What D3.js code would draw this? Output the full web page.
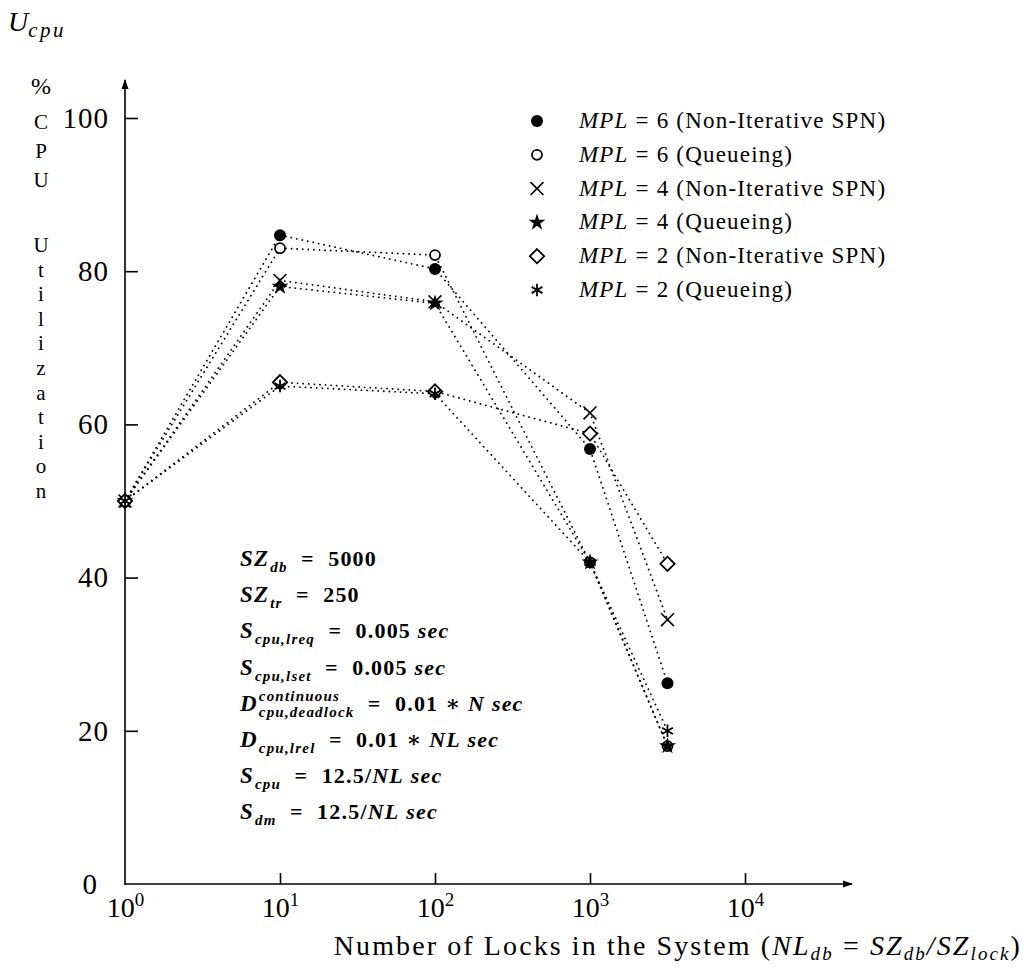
<!DOCTYPE html>
<html>
<head>
<meta charset="utf-8">
<script src="https://cdn.jsdelivr.net/npm/d3@7"></script>
<style>
  body { margin: 0; background: #fff; }
  svg { font-family: "Liberation Serif", "DejaVu Serif", serif; }
</style>
</head>
<body>
<svg id="chart" width="1028" height="968"></svg>
<script>
// number of locks (x) and CPU utilization (%) per series
var locks = [1, 10, 100, 1000, 3162];
var mpl6Spn   = [50, 84.7, 80.3, 56.8, 26.2];
var mpl6Queue = [50, 83.0, 82.1, 42.0, 18.0];
var mpl4Spn   = [50, 78.8, 76.0, 61.5, 34.5];
var mpl4Queue = [50, 78.0, 75.8, 42.0, 18.0];
var mpl2Spn   = [50, 65.5, 64.3, 58.8, 41.8];
var mpl2Queue = [50, 65.0, 64.0, 42.0, 20.0];

var seriesNames = ["6 (Non-Iterative SPN)", "6 (Queueing)", "4 (Non-Iterative SPN)",
                   "4 (Queueing)", "2 (Non-Iterative SPN)", "2 (Queueing)"];
var seriesValues = [mpl6Spn, mpl6Queue, mpl4Spn, mpl4Queue, mpl2Spn, mpl2Queue];
var seriesMarks = ["dot", "ring", "times", "star", "diamond", "asterisk"];

var xTicks = [1, 10, 100, 1000, 10000];
var yTicks = [0, 20, 40, 60, 80, 100];
var yLetters = ["C", "P", "U", "", "U", "t", "i", "l", "i", "z", "a", "t", "i", "o", "n"];

// parameter block: [main, sup, sub, rest]
var params = [
  ["SZ", "", "db", "  =  5000"],
  ["SZ", "", "tr", "  =  250"],
  ["S", "", "cpu,lreq", "  =  0.005 sec"],
  ["S", "", "cpu,lset", "  =  0.005 sec"],
  ["D", "continuous", "cpu,deadlock", "  =  0.01 \u2217 N sec"],
  ["D", "", "cpu,lrel", "  =  0.01 \u2217 NL sec"],
  ["S", "", "cpu", "  =  12.5/NL sec"],
  ["S", "", "dm", "  =  12.5/NL sec"]
];

var svg = d3.select("#chart");

var x = d3.scaleLog().domain([1, 10000]).range([125, 745]);
var y = d3.scaleLinear().domain([0, 100]).range([884, 118]);

// arrow head
svg.append("defs").append("marker")
  .attr("id", "arrow")
  .attr("viewBox", "0 0 10 10")
  .attr("refX", 9).attr("refY", 5)
  .attr("markerWidth", 10).attr("markerHeight", 10)
  .attr("markerUnits", "userSpaceOnUse")
  .attr("orient", "auto")
  .append("path").attr("d", "M0,1.5L10,5L0,8.5Z").attr("fill", "#000");

// axes
var yAxis = svg.append("g")
  .attr("transform", "translate(" + x(1) + ",0)")
  .call(d3.axisLeft(y).tickValues(yTicks).tickSizeInner(-13).tickSizeOuter(0).tickPadding(16));
yAxis.select(".domain").remove();
yAxis.selectAll("line").attr("stroke-width", 1.6);
yAxis.selectAll("text").attr("font-size", 29).attr("font-family", "Liberation Serif").attr("letter-spacing", 1);
yAxis.selectAll(".tick").filter(function(d) { return d === 0; }).remove();

var xAxis = svg.append("g")
  .attr("transform", "translate(0," + y(0) + ")")
  .call(d3.axisBottom(x).tickValues(xTicks).tickSizeInner(-11).tickSizeOuter(0).tickPadding(8).tickFormat(""));
xAxis.select(".domain").remove();
xAxis.selectAll("line").attr("stroke-width", 1.6);
xAxis.selectAll(".tick").filter(function(d) { return d === 1; }).select("line").remove();
xAxis.selectAll(".tick text")
  .attr("font-size", 28).attr("font-family", "Liberation Serif").attr("dy", "0.9em")
  .each(function(d) {
    var t = d3.select(this).text("10");
    t.append("tspan").attr("font-size", 19).attr("dy", "-0.6em").text(Math.round(Math.log10(d)));
  });

svg.append("line")
  .attr("x1", x(1)).attr("y1", y(0)).attr("x2", 852).attr("y2", y(0))
  .attr("stroke", "#000").attr("stroke-width", 1.6).attr("marker-end", "url(#arrow)");
svg.append("line")
  .attr("x1", x(1)).attr("y1", y(0) + 1).attr("x2", x(1)).attr("y2", 80)
  .attr("stroke", "#000").attr("stroke-width", 1.6).attr("marker-end", "url(#arrow)");

svg.append("text").attr("x", 97).attr("y", y(0) + 10)
  .attr("text-anchor", "end").attr("font-size", 29).text("0");

// axis titles
var ut = svg.append("text").attr("x", 8).attr("y", 31).attr("font-size", 28).attr("font-style", "italic");
ut.append("tspan").text("U");
ut.append("tspan").attr("font-size", 21).attr("dy", 6).attr("letter-spacing", 2.5).text("cpu");

svg.append("text").attr("x", 41).attr("y", 94).attr("text-anchor", "middle")
  .attr("font-size", 24).text("%");
svg.selectAll(".yletter")
  .data(yLetters)
  .enter().append("text")
  .attr("class", "yletter")
  .attr("x", 41)
  .attr("y", function(d, i) { return i < 4 ? 129 + i * 29 : 252 + (i - 4) * 24.6; })
  .attr("text-anchor", "middle")
  .attr("font-size", 21)
  .text(function(d) { return d; });

var xl = svg.append("text").attr("x", 1022).attr("y", 955).attr("text-anchor", "end")
  .attr("font-size", 28).attr("letter-spacing", 2.1);
xl.append("tspan").text("Number of Locks in the System (");
xl.append("tspan").attr("font-style", "italic").text("NL");
xl.append("tspan").attr("font-style", "italic").attr("font-size", 19).attr("dy", 5).text("db");
xl.append("tspan").attr("dy", -5).text(" = ");
xl.append("tspan").attr("font-style", "italic").text("SZ");
xl.append("tspan").attr("font-style", "italic").attr("font-size", 19).attr("dy", 5).text("db");
xl.append("tspan").attr("font-style", "italic").attr("dy", -5).text("/SZ");
xl.append("tspan").attr("font-style", "italic").attr("font-size", 19).attr("dy", 5).text("lock");
xl.append("tspan").attr("dy", -5).text(")");

// markers
function drawMark(g, kind) {
  if (kind === "dot") {
    g.append("circle").attr("r", 6).attr("fill", "#000");
  } else if (kind === "ring") {
    g.append("circle").attr("r", 5).attr("fill", "#fff").attr("stroke", "#000").attr("stroke-width", 1.8);
  } else if (kind === "times") {
    g.append("path").attr("d", d3.symbol(d3.symbolTimes, 110)()).attr("fill", "none")
      .attr("stroke", "#000").attr("stroke-width", 1.6);
  } else if (kind === "star") {
    g.append("path").attr("d", d3.symbol(d3.symbolStar, 90)()).attr("fill", "#000");
  } else if (kind === "diamond") {
    g.append("path").attr("d", d3.symbol(d3.symbolDiamond2, 130)()).attr("fill", "#fff")
      .attr("stroke", "#000").attr("stroke-width", 1.8);
  } else {
    g.append("path").attr("d", d3.symbol(d3.symbolAsterisk, 110)()).attr("fill", "none")
      .attr("stroke", "#000").attr("stroke-width", 1.8);
  }
}

var line = d3.line()
  .x(function(d, i) { return x(locks[i]); })
  .y(function(d) { return y(d); });

seriesValues.forEach(function(vals) {
  svg.append("path")
    .attr("d", line(vals))
    .attr("fill", "none")
    .attr("stroke", "#000")
    .attr("stroke-width", 1.8)
    .attr("stroke-linecap", "round")
    .attr("stroke-dasharray", "0.1,5.5");
});

seriesValues.forEach(function(vals, s) {
  vals.forEach(function(v, i) {
    var g = svg.append("g").attr("transform", "translate(" + x(locks[i]) + "," + y(v) + ")");
    drawMark(g, seriesMarks[s]);
  });
});

// legend
seriesNames.forEach(function(name, i) {
  var ly = 121 + i * 33.8;
  var g = svg.append("g").attr("transform", "translate(537," + ly + ")");
  drawMark(g, seriesMarks[i]);
  var t = svg.append("text").attr("x", 579).attr("y", ly + 7).attr("font-size", 23)
    .attr("letter-spacing", 1.2);
  t.append("tspan").attr("font-style", "italic").text("MPL");
  t.append("tspan").text(" = " + name);
});

// parameter block
params.forEach(function(p, i) {
  var by = 566 + i * 36.2;
  var g = svg.append("g").attr("font-weight", "bold").attr("letter-spacing", 1.2);
  var main = g.append("text").attr("x", 240).attr("y", by).attr("font-size", 23)
    .attr("font-style", "italic").text(p[0]);
  var x0 = 240 + main.node().getComputedTextLength() + 1;
  var w = 0;
  if (p[1]) {
    var sup = g.append("text").attr("x", x0).attr("y", by - 10).attr("font-size", 15)
      .attr("font-style", "italic").text(p[1]);
    w = sup.node().getComputedTextLength();
  }
  var sub = g.append("text").attr("x", x0).attr("y", by + 6).attr("font-size", 15)
    .attr("font-style", "italic").text(p[2]);
  w = Math.max(w, sub.node().getComputedTextLength());
  var rest = g.append("text").attr("x", x0 + w).attr("y", by).attr("font-size", 22)
    .style("white-space", "pre");
  // letters in italic, numbers and signs upright
  p[3].split(/([A-Za-z]+)/).forEach(function(part) {
    if (part === "") return;
    rest.append("tspan")
      .attr("font-style", /[A-Za-z]/.test(part) ? "italic" : "normal")
      .text(part);
  });
});
</script>
</body>
</html>
